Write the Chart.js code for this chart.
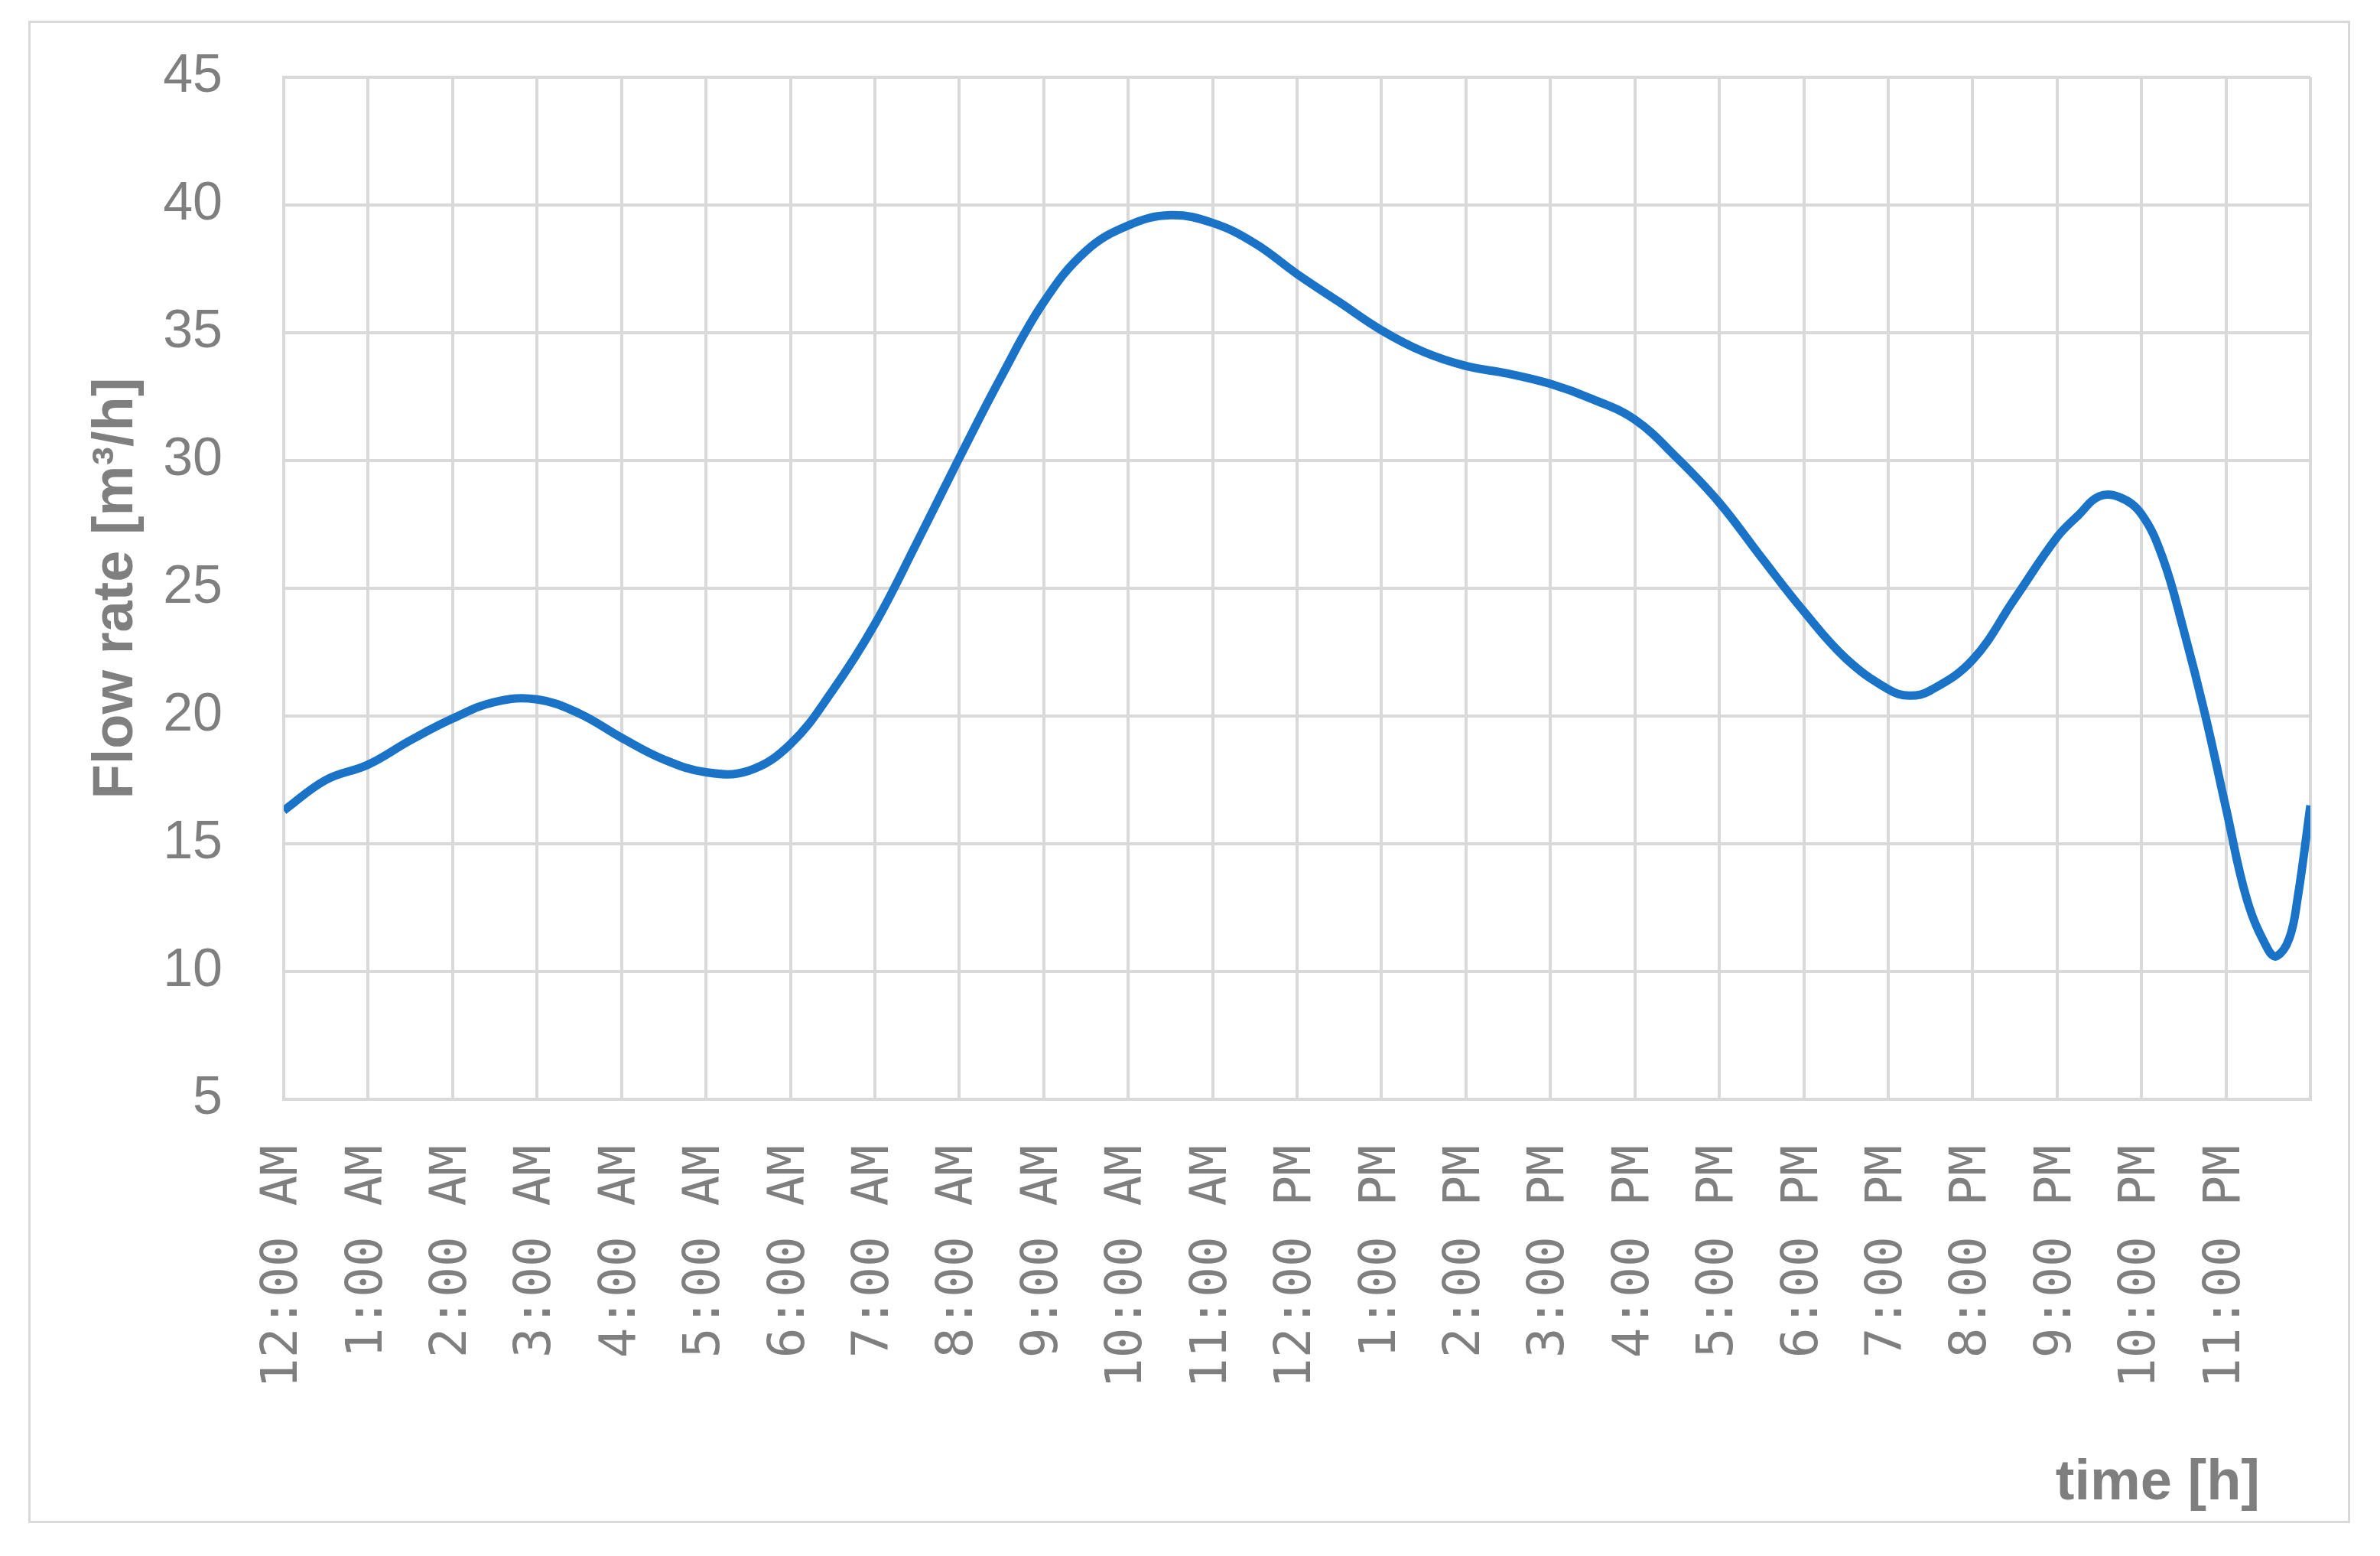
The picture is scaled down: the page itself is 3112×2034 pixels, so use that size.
<!DOCTYPE html>
<html>
<head>
<meta charset="utf-8">
<title>Flow rate</title>
<script src="https://cdn.jsdelivr.net/npm/chart.js@4.4.1/dist/chart.umd.min.js"></script>
<style>
  html, body { margin: 0; padding: 0; background: #fff; overflow: hidden; }
  #wrap { position: relative; width: 3112px; height: 2034px; }
  #frame { position: absolute; left: 37px; top: 27px; width: 3030px; height: 1958px; border: 3px solid #d9d9d9; pointer-events: none; }
</style>
</head>
<body>
<div id="wrap">
  <canvas id="flowChart" width="3112" height="2034"></canvas>
  <div id="frame"></div>
</div>
<script>
  // values (hour of day -> m3/h)
  const hours = [0, 0.5, 1, 1.5, 2, 2.5, 3, 3.5, 4, 4.5, 5, 5.5, 6, 6.5, 7, 7.5, 8, 8.5, 9, 9.5,
    10, 10.5, 11, 11.5, 12, 12.5, 13, 13.5, 14, 14.5, 15, 15.5, 16, 16.5, 17, 17.5, 18, 18.5, 19,
    19.25, 19.5, 20, 20.5, 21, 21.25, 21.5, 21.75, 22, 22.25, 22.5, 22.75, 23, 23.25, 23.5, 23.6,
    23.75, 23.85, 24];
  const flow = [16.3, 17.5, 18.1, 19.05, 19.9, 20.55, 20.65, 20.1, 19.15, 18.3, 17.8, 17.85, 18.9, 21.0,
    23.6, 26.8, 30.1, 33.3, 36.2, 38.2, 39.2, 39.6, 39.3, 38.5, 37.3, 36.2, 35.1, 34.25, 33.7, 33.4,
    33.0, 32.4, 31.6, 30.1, 28.35, 26.2, 24.1, 22.25, 21.05, 20.8, 21.0, 22.2, 24.6, 27.0, 27.85,
    28.6, 28.55, 27.9, 26.2, 23.35, 20.1, 16.4, 12.8, 10.85, 10.6, 11.3, 12.9, 16.5];
  const hourLabels = ["12:00 AM", "1:00 AM", "2:00 AM", "3:00 AM", "4:00 AM", "5:00 AM", "6:00 AM",
    "7:00 AM", "8:00 AM", "9:00 AM", "10:00 AM", "11:00 AM", "12:00 PM", "1:00 PM", "2:00 PM",
    "3:00 PM", "4:00 PM", "5:00 PM", "6:00 PM", "7:00 PM", "8:00 PM", "9:00 PM", "10:00 PM", "11:00 PM"];
  const yMin = 5, yMax = 45, yStep = 5;
  const yTitle = "Flow rate [m\u00B3/h]";
  const xTitle = "time [h]";

  const gray = "#7f7f7f";
  const gridColor = "#d9d9d9";

  // x axis title sits right of centre, inside the outer frame
  const xTitlePlugin = {
    id: "xTitle",
    afterDraw(chart) {
      const ctx = chart.ctx;
      ctx.save();
      ctx.fillStyle = gray;
      ctx.font = "bold 74px 'Liberation Sans', Arial, sans-serif";
      ctx.textAlign = "right";
      ctx.textBaseline = "alphabetic";
      ctx.fillText(xTitle, 2955, 1960);
      ctx.restore();
    }
  };

  new Chart(document.getElementById("flowChart"), {
    type: "line",
    data: {
      datasets: [{
        data: hours.map((h, i) => ({ x: h, y: flow[i] })),
        borderColor: "#1a73c7",
        borderWidth: 11,
        pointRadius: 0,
        tension: 0.4,
        fill: false
      }]
    },
    options: {
      responsive: false,
      animation: false,
      devicePixelRatio: 1,
      layout: { padding: { top: 101, right: 91, left: 0, bottom: 0 } },
      plugins: { legend: { display: false }, tooltip: { enabled: false } },
      scales: {
        x: {
          type: "linear",
          min: 0, max: 24,
          afterFit: s => { s.height = 597; s.paddingLeft = 0; s.paddingRight = 0; },
          grid: { color: gridColor, lineWidth: 4, drawTicks: false },
          border: { color: gridColor, width: 4 },
          ticks: {
            stepSize: 1,
            autoSkip: false,
            minRotation: 90, maxRotation: 90,
            padding: 60,
            color: gray,
            font: { family: "'DejaVu Sans Mono', monospace", size: 66 },
            callback: v => hourLabels[v] || ""
          }
        },
        y: {
          min: yMin, max: yMax,
          afterFit: s => { s.width = 371; s.paddingTop = 0; s.paddingBottom = 0; },
          grid: { color: gridColor, lineWidth: 4, drawTicks: false },
          border: { color: gridColor, width: 4 },
          ticks: {
            stepSize: yStep,
            padding: 80,
            color: gray,
            font: { family: "'Liberation Sans', Arial, sans-serif", size: 70 }
          },
          title: {
            display: true,
            text: yTitle,
            color: gray,
            padding: { top: 108, bottom: 0 },
            font: { family: "'Liberation Sans', Arial, sans-serif", size: 74, weight: "bold" }
          }
        }
      }
    },
    plugins: [xTitlePlugin]
  });
</script>
</body>
</html>
